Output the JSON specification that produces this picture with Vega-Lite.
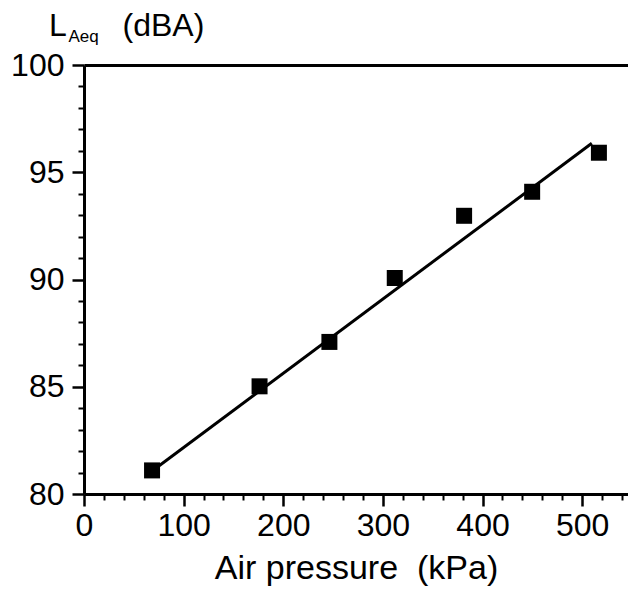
{
  "$schema": "https://vega.github.io/schema/vega-lite/v6.json",
  "autosize": {"type": "none"},
  "width": 544,
  "height": 429,
  "padding": {"left": 84, "top": 65, "right": 0, "bottom": 97},
  "background": "white",
  "config": {
    "view": {"stroke": null},
    "font": "Liberation Sans",
    "axis": {"grid": false, "domainColor": "black", "tickColor": "black", "labelColor": "black", "titleColor": "black", "labelFont": "Liberation Sans", "titleFont": "Liberation Sans", "titleFontWeight": "normal"}
  },
  "title": {
    "text": "L",
    "anchor": "start",
    "frame": "group",
    "fontSize": 32,
    "fontWeight": "normal",
    "font": "Liberation Sans",
    "color": "black",
    "dx": -35,
    "dy": 44,
    "offset": 10
  },
  "datasets": {
    "points": [
      {"pressure": 68.3, "laeq": 81.1},
      {"pressure": 176.2, "laeq": 85.02},
      {"pressure": 246.3, "laeq": 87.09},
      {"pressure": 311.9, "laeq": 90.07},
      {"pressure": 381.5, "laeq": 92.97},
      {"pressure": 449.8, "laeq": 94.09},
      {"pressure": 516.8, "laeq": 95.91}
    ],
    "fit": [
      {"pressure": 68, "laeq": 81.06},
      {"pressure": 509.7, "laeq": 96.35}
    ]
  },
  "layer": [
    {
      "data": {"name": "points"},
      "mark": {"type": "square", "color": "black", "filled": true, "opacity": 1, "size": 256},
      "encoding": {
        "x": {"field": "pressure", "type": "quantitative", "scale": {"domain": [0, 546], "nice": false, "zero": false},
          "axis": {"orient": "bottom", "values": [0, 20, 40, 60, 80, 100, 120, 140, 160, 180, 200, 220, 240, 260, 280, 300, 320, 340, 360, 380, 400, 420, 440, 460, 480, 500, 520, 540],
            "labelExpr": "datum.value % 100 === 0 ? datum.label : ''", "labelOverlap": false, "labelFlush": false,
            "tickSize": {"condition": {"test": "datum.value % 100 === 0", "value": 12}, "value": 6},
            "tickWidth": {"condition": {"test": "datum.value % 100 === 0", "value": 2.5}, "value": 2},
            "domainWidth": 3, "labelFontSize": 32, "labelPadding": 4, "title": "Air pressure \u00a0(kPa)", "titleFontSize": 34, "titlePadding": 10}},
        "y": {"field": "laeq", "type": "quantitative", "scale": {"domain": [80, 100], "nice": false, "zero": false},
          "axis": {"orient": "left", "values": [80, 81, 82, 83, 84, 85, 86, 87, 88, 89, 90, 91, 92, 93, 94, 95, 96, 97, 98, 99, 100],
            "labelExpr": "datum.value % 5 === 0 ? datum.label : ''", "labelOverlap": false, "labelFlush": false,
            "tickSize": {"condition": {"test": "datum.value % 5 === 0", "value": 12}, "value": 6},
            "tickWidth": {"condition": {"test": "datum.value % 5 === 0", "value": 2.5}, "value": 2},
            "domainWidth": 3, "labelFontSize": 32, "labelPadding": 8, "title": "(dBA)", "titleFontSize": 32, "titleAngle": 0, "titleAlign": "left", "titleBaseline": "alphabetic", "titleX": 38, "titleY": -30}}
      }
    },
    {
      "data": {"name": "fit"},
      "mark": {"type": "line", "color": "black", "strokeWidth": 3},
      "encoding": {
        "x": {"field": "pressure", "type": "quantitative", "scale": {"domain": [0, 546], "nice": false, "zero": false},
          "axis": {"orient": "top", "ticks": false, "labels": false, "domain": true, "domainWidth": 3, "title": "Aeq", "titleFontSize": 17, "titleAngle": 0, "titleAlign": "left", "titleBaseline": "alphabetic", "titleX": -16, "titleY": -24}},
        "y": {"field": "laeq", "type": "quantitative", "scale": {"domain": [80, 100], "nice": false, "zero": false},
          "axis": {"orient": "left", "values": [80, 81, 82, 83, 84, 85, 86, 87, 88, 89, 90, 91, 92, 93, 94, 95, 96, 97, 98, 99, 100],
            "labelExpr": "datum.value % 5 === 0 ? datum.label : ''", "labelOverlap": false, "labelFlush": false,
            "tickSize": {"condition": {"test": "datum.value % 5 === 0", "value": 12}, "value": 6},
            "tickWidth": {"condition": {"test": "datum.value % 5 === 0", "value": 2.5}, "value": 2},
            "domainWidth": 3, "labelFontSize": 32, "labelPadding": 8, "title": "(dBA)", "titleFontSize": 32, "titleAngle": 0, "titleAlign": "left", "titleBaseline": "alphabetic", "titleX": 38, "titleY": -30}}
      }
    }
  ],
  "resolve": {"axis": {"x": "independent"}}
}
